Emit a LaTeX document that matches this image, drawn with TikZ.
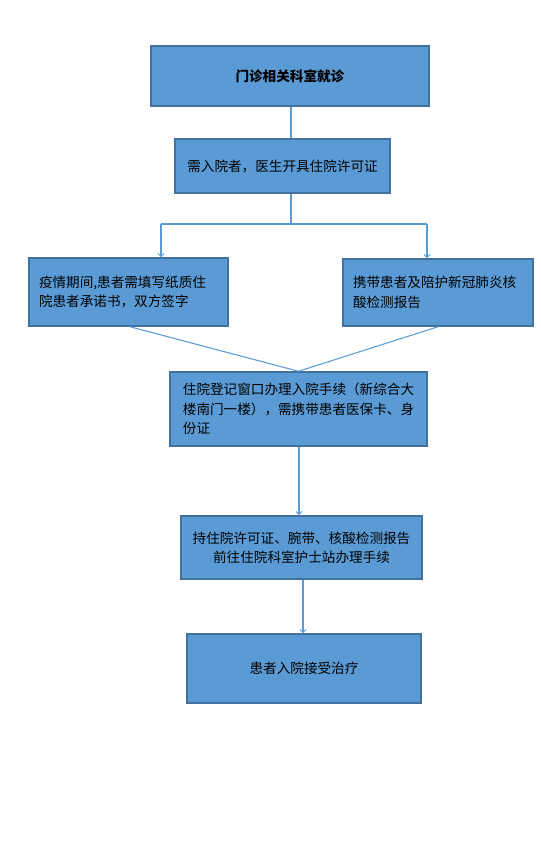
\documentclass[tikz,border=0pt]{standalone}
\usepackage{fontspec}
\setmainfont{Noto Sans CJK SC}
\usetikzlibrary{arrows.meta,calc}
\newdimen\px \px=0.75pt
\definecolor{boxfill}{HTML}{5B9BD5}
\definecolor{boxedge}{HTML}{41719C}
\definecolor{conn}{HTML}{5B9BD5}
\tikzset{
  box/.style={draw=boxedge, fill=boxfill, line width=1.1pt, rectangle, inner sep=0pt,
    font=\fontsize{10.2}{14.8}\selectfont, text=black},
  conn/.style={draw=conn, line width=0.8pt},
  arr/.style={conn, -{Straight Barb[length=2.4pt,width=4.5pt,line width=0.7pt]}},
}
\begin{document}
\begin{tikzpicture}[x=0.75pt,y=-0.75pt]
\useasboundingbox (0,0) rectangle (541,859);
\node[box, minimum width=278\px, minimum height=60\px] (a) at (290,76) {\textbf{门诊相关科室就诊}};
\node[box, minimum width=215\px, minimum height=54\px] (b) at (282.5,166) {需入院者，医生开具住院许可证};
\node[box, minimum width=199\px, minimum height=68\px, text width=179\px, inner xsep=10\px, align=left] (l) at (128.5,292) {疫情期间,患者需填写纸质住\\院患者承诺书，双方签字};
\node[box, minimum width=190\px, minimum height=67\px, text width=170\px, inner xsep=10\px, align=left] (r) at (438,292.5) {携带患者及陪护新冠肺炎核\\酸检测报告};
\node[box, minimum width=257\px, minimum height=74\px, align=left, font=\fontsize{10.2}{14.6}\selectfont] (m) at (298.5,409) {住院登记窗口办理入院手续（新综合大\\楼南门一楼），需携带患者医保卡、身\\份证};
\node[box, minimum width=241\px, minimum height=63\px, align=center, font=\fontsize{10.2}{14.3}\selectfont] (e) at (301.5,547.5) {持住院许可证、腕带、核酸检测报告\\前往住院科室护士站办理手续};
\node[box, minimum width=234\px, minimum height=69\px] (f) at (304,668.5) {患者入院接受治疗};
\coordinate (split) at (291,224);
\coordinate (sl) at (161,224);
\coordinate (sr) at (427,224);
\draw[conn] ([xshift=1\px]a.south) -- ([xshift=8.5\px]b.north);
\draw[conn] ([xshift=8.5\px]b.south) -- (split);
\draw[conn] (sl) -- (sr);
\draw[arr] (sl) -- (sl |- l.north);
\draw[arr] (sr) -- (sr |- r.north);
\draw[conn] ([xshift=1.5\px]l.south) -- (m.north);
\draw[conn] (r.south) -- (m.north);
\draw[arr] ([xshift=0.5\px]m.south) -- ([xshift=-2.5\px]e.north);
\draw[arr] ([xshift=1.5\px]e.south) -- ([xshift=-1\px]f.north);
\end{tikzpicture}
\end{document}
